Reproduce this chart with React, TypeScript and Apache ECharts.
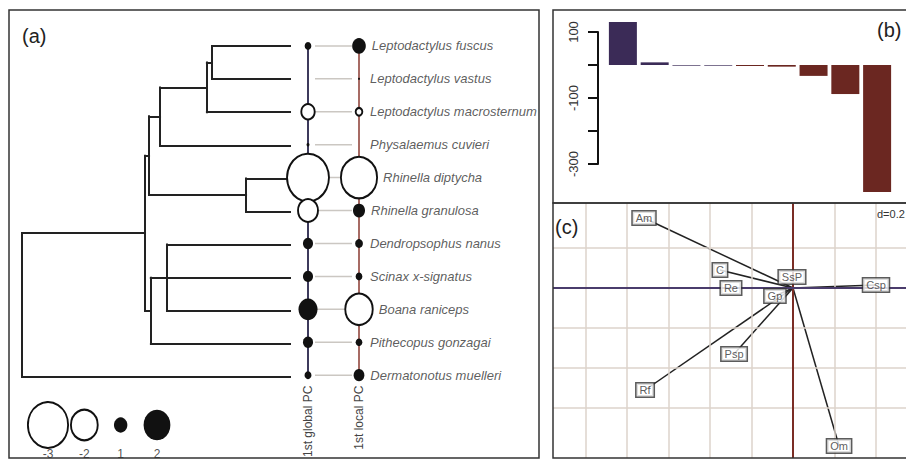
import React, { useEffect, useRef } from 'react';
import * as echarts from 'echarts';

// ---------- Panel (a): phylogeny + PC scores ----------
const species = [
  'Leptodactylus fuscus',
  'Leptodactylus vastus',
  'Leptodactylus macrosternum',
  'Physalaemus cuvieri',
  'Rhinella diptycha',
  'Rhinella granulosa',
  'Dendropsophus nanus',
  'Scinax x-signatus',
  'Boana raniceps',
  'Pithecopus gonzagai',
  'Dermatonotus muelleri',
];
const globalPC = [0.5, 0, -1.0, 0.22, -3.13, -1.49, 0.75, 0.75, 1.42, 0.75, 0.52];
const localPC = [1.02, 0.15, -0.5, 0, -2.7, 0.9, 0.58, 0.5, -2.05, 0.5, 0.8];
const pcColumns = ['1st global PC', '1st local PC'];
const legendValues = [-3, -2, 1, 2];

// tree topology: internal node -> depth (0 = root, 1 = tips) and children (node id or tip index)
const nodeIds = ['root', 'A', 'B', 'C', 'D', 'E', 'F', 'G', 'H'];
const nodeDepths = [0, 0.459, 0.474, 0.515, 0.69, 0.709, 0.836, 0.481, 0.541];
const nodeChildren: (string | number)[][] = [
  ['A', 10],
  ['B', 'G'],
  ['C', 'F'],
  ['D', 3],
  ['E', 2],
  [0, 1],
  [4, 5],
  ['H', 7, 9],
  [6, 8],
];

// ---------- Panel (b): bars ----------
const barLabels = ['1', '2', '3', '4', '5', '6', '7', '8', '9'];
const barValues = [130, 8, -2, -2, -3, -5, -33, -88, -385];
const barTickLabels = [100, -100, -300];

// ---------- Panel (c): ordination ----------
const varNames = ['Am', 'C', 'SsP', 'Re', 'Gp', 'Csp', 'Psp', 'Rf', 'Om'];
const varX = [-0.718, -0.352, -0.005, -0.299, -0.087, 0.4, -0.284, -0.713, 0.222];
const varY = [0.35, 0.09, 0.055, 0.0, -0.04, 0.015, -0.33, -0.51, -0.79];
const cGridX = [-1.0, -0.8, -0.6, -0.4, -0.2, 0.2, 0.4];
const cGridY = [-0.6, -0.4, -0.2, 0.2];
const cXMin = -1.1566;
const cXMax = 0.5446;
const cYMin = -0.85;
const cYMax = 0.425;

const FONT = '"Liberation Sans", Arial, sans-serif';

function buildTree() {
  const segs: number[][][] = [];
  const place = (id: string | number): [number, number] => {
    if (typeof id === 'number') return [1, id];
    const idx = nodeIds.indexOf(id);
    const d = nodeDepths[idx];
    const pts = nodeChildren[idx].map(place);
    const ys = pts.map((p) => p[1]);
    const y0 = Math.min(...ys);
    const y1 = Math.max(...ys);
    segs.push([[d, y0], [d, y1]]);
    pts.forEach((p) => segs.push([[d, p[1]], [p[0], p[1]]]));
    return [d, (y0 + y1) / 2];
  };
  place('root');
  return segs;
}

const K = 6.7;
const ASP = 1.14;
const sizeOf = (v: number) => [2 * K * Math.abs(v), 2 * K * ASP * Math.abs(v)];
const circleStyle = (v: number) =>
  v >= 0
    ? { color: '#111', borderWidth: 0, opacity: 1 }
    : { color: '#fff', borderColor: '#111', borderWidth: 2, opacity: 1 };

export default function App() {
  const ref = useRef<HTMLDivElement>(null);
  useEffect(() => {
    if (!ref.current) return;
    const chart = echarts.init(ref.current, undefined, { renderer: 'svg' });
    const treeSegs = buildTree();

    const option: any = {
      animation: false,
      backgroundColor: '#fff',
      textStyle: { fontFamily: FONT, color: '#333' },
      grid: [
        { left: 22, top: 29.45, width: 268, height: 364.1 },
        { left: 282.5, top: 29.45, width: 102, height: 364.1 },
        { left: 29.85, top: 400, width: 145.3, height: 50 },
        { left: 607, top: 32, width: 286, height: 132 },
        { left: 553, top: 203, width: 353, height: 255 },
      ],
      xAxis: [
        { gridIndex: 0, type: 'value', min: 0, max: 1, show: false },
        {
          gridIndex: 1,
          type: 'category',
          data: pcColumns,
          axisLine: { show: false },
          axisTick: { show: false },
          splitLine: { show: false },
          axisLabel: { rotate: 90, margin: -6, fontSize: 12, color: '#444', fontFamily: FONT },
        },
        { gridIndex: 2, type: 'category', data: legendValues.map(String), show: false },
        { gridIndex: 3, type: 'category', data: barLabels, show: false },
        { gridIndex: 4, type: 'value', min: cXMin, max: cXMax, show: false },
      ],
      yAxis: [
        { gridIndex: 0, type: 'value', inverse: true, min: -0.5, max: 10.5, show: false },
        { gridIndex: 1, type: 'category', data: species, inverse: true, show: false },
        { gridIndex: 2, type: 'value', min: 0, max: 1, show: false },
        {
          gridIndex: 3,
          type: 'value',
          min: -300,
          max: 100,
          interval: 100,
          offset: 9,
          axisLine: { show: true, lineStyle: { color: '#111', width: 2 } },
          axisTick: { show: true, length: 10, lineStyle: { color: '#111', width: 2 } },
          splitLine: { show: false },
          axisLabel: {
            rotate: 90,
            margin: 18,
            fontSize: 13,
            color: '#333',
            fontFamily: FONT,
            formatter: (v: number) => (barTickLabels.includes(v) ? String(v) : ''),
          },
        },
        { gridIndex: 4, type: 'value', min: cYMin, max: cYMax, show: false },
      ],
      series: [
        {
          type: 'lines',
          coordinateSystem: 'cartesian2d',
          xAxisIndex: 0,
          yAxisIndex: 0,
          silent: true,
          data: treeSegs.map((c) => ({ coords: c })),
          lineStyle: { color: '#222', width: 2, opacity: 1, cap: 'square' },
          z: 2,
        },
        {
          type: 'custom',
          xAxisIndex: 1,
          yAxisIndex: 1,
          silent: true,
          data: species.map((_, i) => [0, i]),
          renderItem: (_p: any, api: any) => {
            const a = api.coord([0, api.value(1)]);
            const b = api.coord([1, api.value(1)]);
            return {
              type: 'line',
              shape: { x1: a[0] + 7, y1: a[1], x2: b[0] - 7, y2: b[1] },
              style: { stroke: '#cbc7c2', lineWidth: 1.5 },
            };
          },
          z: 1,
        },
        {
          type: 'line',
          xAxisIndex: 1,
          yAxisIndex: 1,
          silent: true,
          data: species.map((_, i) => [0, i]),
          symbol: 'none',
          lineStyle: { color: '#3d3a5c', width: 2 },
          z: 2,
        },
        {
          type: 'line',
          xAxisIndex: 1,
          yAxisIndex: 1,
          silent: true,
          data: species.map((_, i) => [1, i]),
          symbol: 'none',
          lineStyle: { color: '#8a3a30', width: 1.5 },
          z: 2,
        },
        {
          type: 'scatter',
          xAxisIndex: 1,
          yAxisIndex: 1,
          silent: true,
          data: globalPC.map((v, i) => ({
            value: [0, i, v],
            symbolSize: sizeOf(v),
            itemStyle: circleStyle(v),
          })),
          z: 4,
        },
        {
          type: 'scatter',
          xAxisIndex: 1,
          yAxisIndex: 1,
          silent: true,
          data: localPC.map((v, i) => ({
            value: [1, i, v],
            symbolSize: sizeOf(v),
            itemStyle: circleStyle(v),
          })),
          z: 4,
        },
        {
          type: 'scatter',
          xAxisIndex: 1,
          yAxisIndex: 1,
          silent: true,
          data: localPC.map((v, i) => ({
            name: species[i],
            value: [1, i],
            symbolSize: [Math.max(2 * K * Math.abs(v), 10), 10],
          })),
          itemStyle: { color: 'rgba(0,0,0,0)' },
          label: {
            show: true,
            position: 'right',
            distance: 6,
            formatter: (p: any) => p.name,
            fontStyle: 'italic',
            fontSize: 13,
            color: '#333',
            fontFamily: FONT,
          },
          z: 5,
        },
        {
          type: 'scatter',
          xAxisIndex: 2,
          yAxisIndex: 2,
          silent: true,
          data: legendValues.map((v, i) => ({
            value: [i, 0.5],
            symbolSize: sizeOf(v),
            itemStyle: circleStyle(v),
          })),
          z: 4,
        },
        {
          type: 'scatter',
          xAxisIndex: 2,
          yAxisIndex: 2,
          silent: true,
          data: legendValues.map((v, i) => ({ name: String(v), value: [i, 0.5] })),
          symbolSize: [1, 46],
          itemStyle: { color: 'rgba(0,0,0,0)' },
          label: {
            show: true,
            position: 'bottom',
            distance: 0,
            formatter: (p: any) => p.name,
            fontSize: 12,
            color: '#222',
            fontFamily: FONT,
          },
          z: 5,
        },
        {
          type: 'bar',
          xAxisIndex: 3,
          yAxisIndex: 3,
          silent: true,
          clip: false,
          barWidth: 28,
          data: barValues.map((v, i) => ({
            value: v,
            itemStyle: { color: i < 4 ? '#3b2b57' : '#6b2721' },
          })),
        },
        {
          type: 'scatter',
          xAxisIndex: 4,
          yAxisIndex: 4,
          silent: true,
          data: [],
          z: 1,
          markLine: {
            silent: true,
            symbol: ['none', 'none'],
            label: { show: false },
            lineStyle: { color: '#dcd3cb', width: 1.5, type: 'solid' },
            data: [
              ...cGridX.map((v) => ({ xAxis: v })),
              ...cGridY.map((v) => ({ yAxis: v })),
              { xAxis: 0, lineStyle: { color: '#7b2d25', width: 2, type: 'solid' } },
              { yAxis: 0, lineStyle: { color: '#4a3c6c', width: 2, type: 'solid' } },
            ],
          },
        },
        {
          type: 'lines',
          coordinateSystem: 'cartesian2d',
          xAxisIndex: 4,
          yAxisIndex: 4,
          silent: true,
          data: varNames.map((_, i) => ({ coords: [[0, 0], [varX[i], varY[i]]] })),
          lineStyle: { color: '#222', width: 1.5, opacity: 1 },
          z: 3,
        },
        {
          type: 'scatter',
          xAxisIndex: 4,
          yAxisIndex: 4,
          silent: true,
          symbolSize: 0,
          data: varNames.map((n, i) => ({ name: n, value: [varX[i], varY[i]] })),
          label: {
            show: true,
            position: 'inside',
            formatter: (p: any) => p.name,
            fontSize: 11,
            lineHeight: 11,
            color: '#333',
            fontFamily: FONT,
            backgroundColor: '#fff',
            borderColor: '#333',
            borderWidth: 1.5,
            padding: [1, 3, 1, 3],
          },
          z: 6,
        },
      ],
      graphic: [
        { type: 'rect', z: 100, shape: { x: 9, y: 10, width: 530, height: 448 }, style: { fill: 'none', stroke: '#333', lineWidth: 1.5 } },
        { type: 'rect', z: 100, shape: { x: 553, y: 10, width: 360, height: 193 }, style: { fill: 'none', stroke: '#333', lineWidth: 1.5 } },
        { type: 'rect', z: 100, shape: { x: 553, y: 203, width: 360, height: 255 }, style: { fill: 'none', stroke: '#333', lineWidth: 1.5 } },
        { type: 'text', z: 100, x: 22, y: 36, style: { text: '(a)', fontSize: 20, fill: '#222', fontFamily: FONT, verticalAlign: 'middle' } },
        { type: 'text', z: 100, x: 877, y: 30, style: { text: '(b)', fontSize: 20, fill: '#222', fontFamily: FONT, verticalAlign: 'middle' } },
        { type: 'text', z: 100, x: 555, y: 227, style: { text: '(c)', fontSize: 20, fill: '#222', fontFamily: FONT, verticalAlign: 'middle' } },
        { type: 'text', z: 100, x: 877, y: 214, style: { text: 'd=0.2', fontSize: 11, fill: '#333', fontFamily: FONT, verticalAlign: 'middle' } },
      ],
    };
    chart.setOption(option);
    return () => chart.dispose();
  }, []);
  return (
    <div
      ref={ref}
      style={{ position: 'fixed', left: 0, top: 0, width: 906, height: 460, background: '#fff' }}
    />
  );
}
